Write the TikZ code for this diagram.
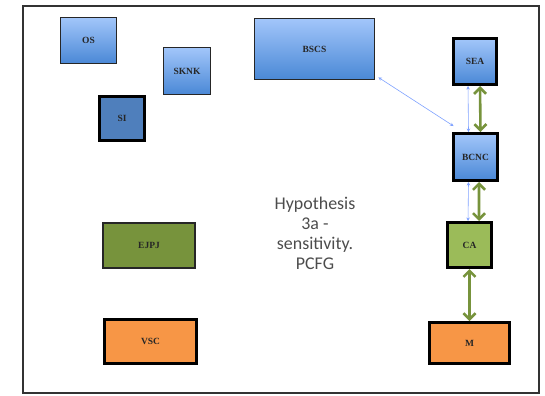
\documentclass[tikz,border=0pt]{standalone}
\usepackage{fontspec}
\setmainfont{Liberation Serif}
\newfontfamily\notefont{Carlito}
\usetikzlibrary{arrows.meta}

\definecolor{boxtop}{HTML}{A2C6FA}
\definecolor{boxbot}{HTML}{4A88D6}
\definecolor{steel}{HTML}{4F7FBC}
\definecolor{olive}{HTML}{77933C}
\definecolor{lime}{HTML}{9BBB59}
\definecolor{tang}{HTML}{F79646}
\definecolor{linkblue}{HTML}{7FA2FF}
\definecolor{frameline}{HTML}{333333}

\tikzset{
  box/.style={rectangle, inner sep=0pt, text=black!85,
    font=\bfseries\fontsize{9.5}{10}\selectfont},
  thinrim/.style={box, draw=black!85, line width=1.8bp},
  thickrim/.style={box, draw=black, line width=3bp},
  bluegrad/.style={top color=boxtop, bottom color=boxbot},
  link/.style={draw=linkblue, line width=0.6bp,
    {Stealth[length=3.5bp,width=3.5bp]}-{Stealth[length=3.5bp,width=3.5bp]}},
  duplex/.style={draw=olive, line width=2.6bp,
    {Straight Barb[length=6bp,width=12bp,line width=2.6bp]}-{Straight Barb[length=6bp,width=12bp,line width=2.6bp]}},
}

\begin{document}
\begin{tikzpicture}[x=1bp, y=-1bp]
  \useasboundingbox (0,0) rectangle (545,395);
  % outer frame
  \draw[frameline, line width=1.4bp] (23,6) rectangle (539,393);

  % blue boxes, upper left and top
  \node[thinrim, bluegrad, minimum width=56bp, minimum height=46bp] (OS) at (88.5,40.5) {OS};
  \node[thinrim, bluegrad, minimum width=47bp, minimum height=47bp] (SKNK) at (187,71) {SKNK};
  \node[thickrim, fill=steel, minimum width=45bp, minimum height=44bp] (SI) at (122,118.5) {SI};
  \node[thinrim, bluegrad, minimum width=120bp, minimum height=61bp] (BSCS) at (314.5,49) {BSCS};

  % right-hand column
  \node[thickrim, bluegrad, minimum width=43bp, minimum height=46bp] (SEA) at (475,61.5) {SEA};
  \node[thickrim, bluegrad, minimum width=44bp, minimum height=47bp] (BCNC) at (475.5,157) {BCNC};
  \node[thickrim, fill=lime, minimum width=44bp, minimum height=45bp] (CA) at (469.5,245) {CA};
  \node[thickrim, fill=tang, minimum width=80bp, minimum height=41bp] (M) at (469.5,343) {M};

  % lower left boxes
  \node[thinrim, line width=2.4bp, fill=olive, minimum width=92bp, minimum height=45bp] (EJPJ) at (149,245.5) {EJPJ};
  \node[thickrim, fill=tang, minimum width=92bp, minimum height=44bp] (VSC) at (150.5,341.5) {VSC};

  % centre caption
  \node[align=center, text=black!70, font=\notefont\fontsize{18}{20}\selectfont] (cap) at (315,233)
    {Hypothesis\\3a -\\sensitivity.\\PCFG};

  % thin blue links
  \coordinate (bscsend) at ([xshift=3bp,yshift=3bp]BSCS.south east);
  \coordinate (bcncend) at ([xshift=-22bp,yshift=6bp]BCNC.north);
  \draw[link] (bscsend) -- (bcncend);
  \draw[link] ([xshift=-7bp]SEA.south) -- ([xshift=-7bp]BCNC.north);
  \draw[link] ([xshift=-7bp]BCNC.south) -- ([xshift=-1.5bp]CA.north);

  % green two-way arrows
  \draw[duplex] ([xshift=5bp]SEA.south) -- ([xshift=5bp]BCNC.north);
  \draw[duplex] ([xshift=3.5bp]BCNC.south) -- ([xshift=9.5bp]CA.north);
  \draw[duplex] (CA.south) -- (M.north);
\end{tikzpicture}
\end{document}
